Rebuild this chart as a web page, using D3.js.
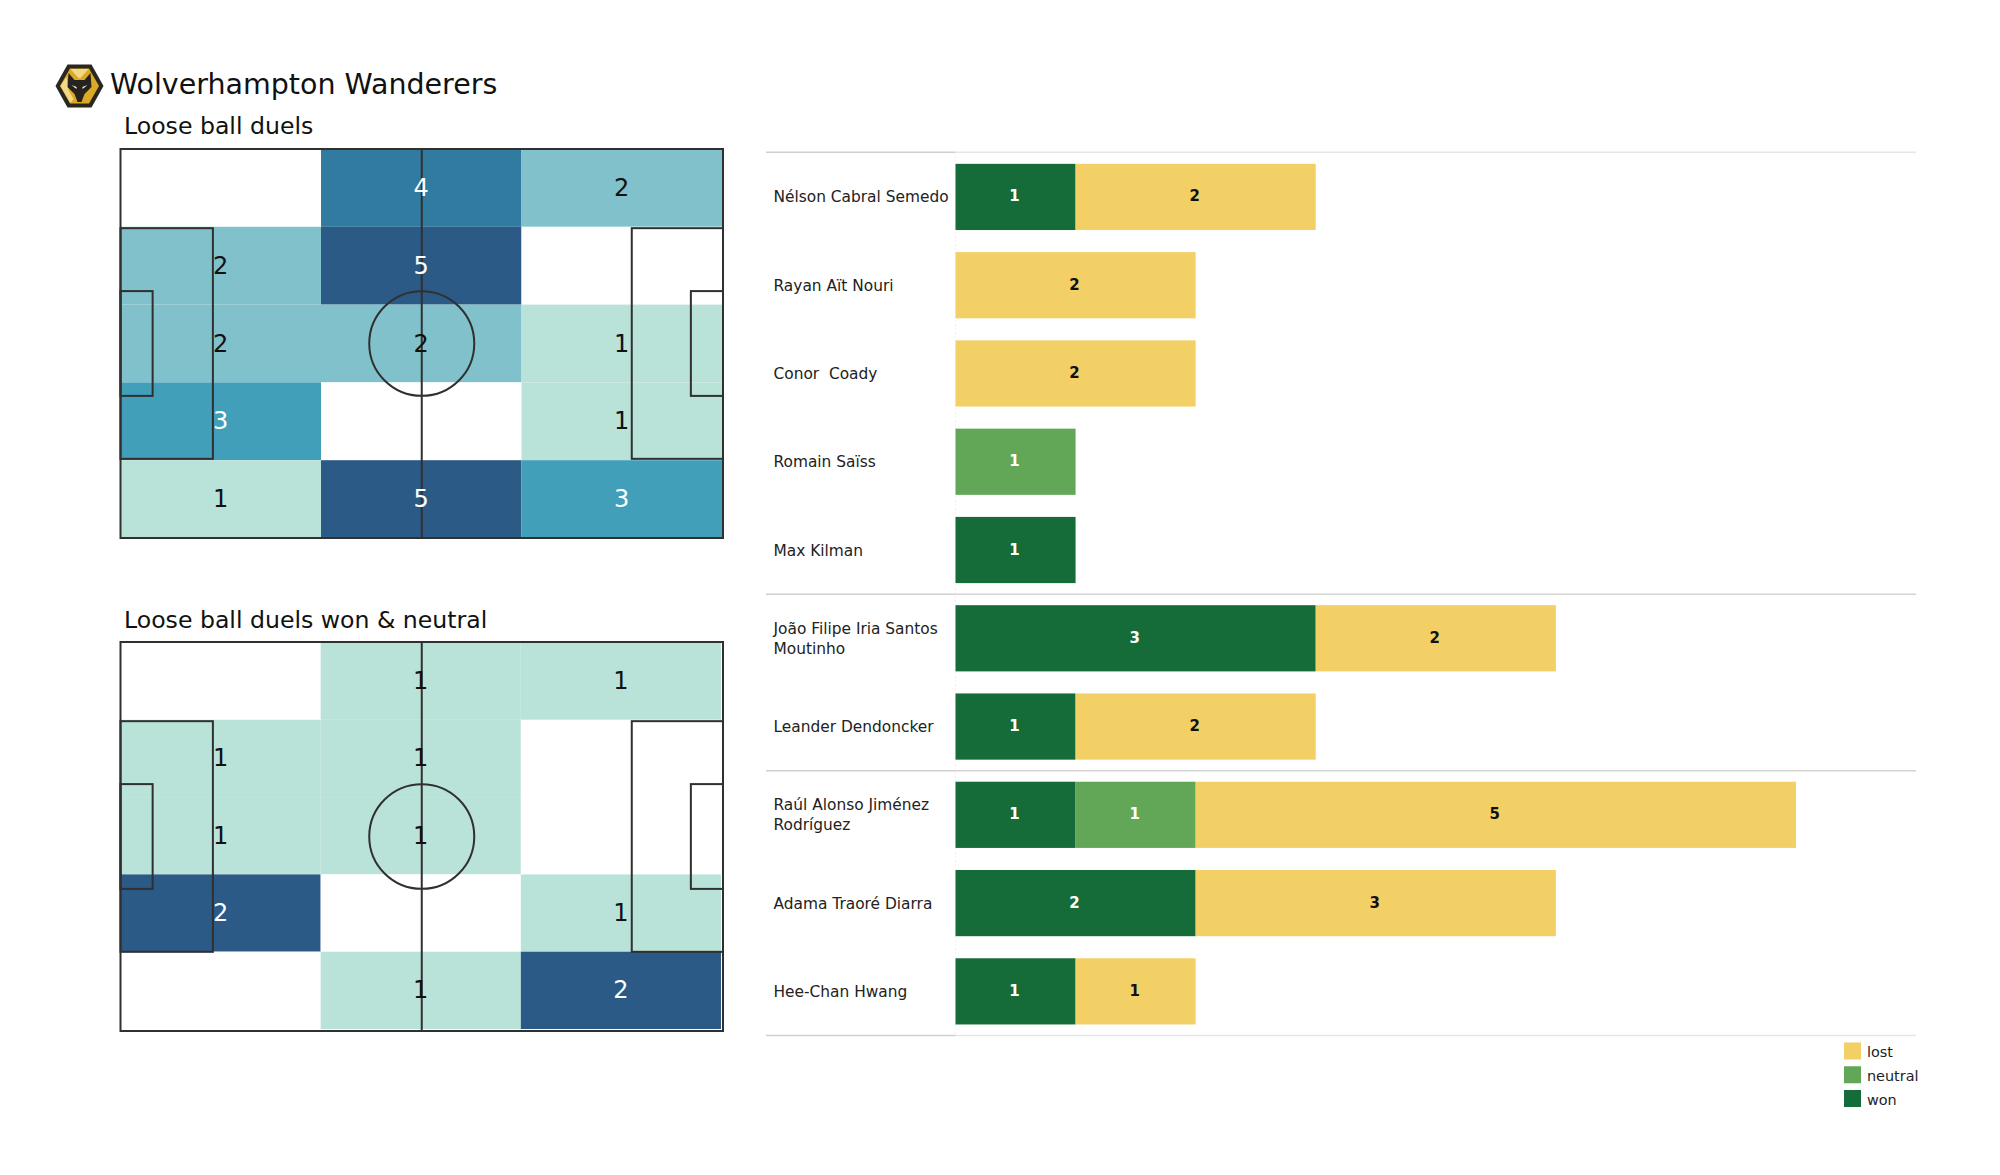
<!DOCTYPE html>
<html><head><meta charset="utf-8">
<script src="https://cdn.jsdelivr.net/npm/d3@7/dist/d3.min.js"></script>
<style>
html,body{margin:0;padding:0;background:#fff}
svg{display:block}
text{font-family:"DejaVu Sans",sans-serif}
</style></head><body>
<svg id="chart" width="2000" height="1175"></svg>
<script>
// ----- Data -----
const teamName = "Wolverhampton Wanderers";
const pitchTitles = ["Loose ball duels", "Loose ball duels won & neutral"];
const duelsGrid = [
  [0, 4, 2],
  [2, 5, 0],
  [2, 2, 1],
  [3, 0, 1],
  [1, 5, 3]
];
const wonNeutralGrid = [
  [0, 1, 1],
  [1, 1, 0],
  [1, 1, 0],
  [2, 0, 1],
  [0, 1, 2]
];
const players = ["Nélson Cabral Semedo","Rayan Aït Nouri","Conor  Coady","Romain Saïss","Max Kilman",
  "João Filipe Iria Santos|Moutinho","Leander Dendoncker","Raúl Alonso Jiménez|Rodríguez","Adama Traoré Diarra","Hee-Chan Hwang"];
const won     = [1,0,0,0,1,3,1,1,2,1];
const neutral = [0,0,0,1,0,0,0,1,0,0];
const lost    = [2,2,2,0,0,2,2,5,3,1];
const groupEnds = [4,6,9];
const outcomes = ["won","neutral","lost"];
const legendOrder = ["lost","neutral","won"];
const outcomeColors = ["#156c38","#62a758","#f2d066"];
const heatColors = ["#ffffff","#b9e3d8","#80c1cb","#429fba","#327ba0","#2b5a86"];

// ----- Setup -----
const svg = d3.select("#chart");
svg.append("rect").attr("width",2000).attr("height",1175).attr("fill","#fff");

// Logo
const logo = svg.append("g").attr("transform","translate(79.5,86)");
const hex = (w,h,c)=>[[-w,0],[-c,-h],[c,-h],[w,0],[c,h],[-c,h]].join(" ");
logo.append("polygon").attr("points",hex(24,21.5,12)).attr("fill","#2a2620");
logo.append("polygon").attr("points",hex(19.5,17.5,9.5)).attr("fill","#dba926");
logo.append("path").attr("d","M-9,-17 L-1,-8 L1,-8 L9,-17 Z M-19,0 L-13,-9 L-11,4 L-6,13 L-9,17 Z").attr("fill","#f1d98a");
logo.append("path").attr("d","M-11,-13 L-5,-6 L5,-6 L11,-13 L12,1 L5,8 L2,16 L-2,16 L-5,8 L-12,1 Z").attr("fill","#26221d");
logo.append("path").attr("d","M-8,-1 L-3,1 L-3,3 Z M8,-1 L3,1 L3,3 Z").attr("fill","#fff");

svg.append("text").attr("x",110).attr("y",85.5).attr("dominant-baseline","middle")
  .attr("font-size",28.5).attr("fill","#111").text(teamName);

// ----- Pitches -----
function drawPitch(grid, title, frame, cellBox, titleY){
  const [x0,x1,y0,y1] = frame;
  const g = svg.append("g");
  g.append("text").attr("x",124).attr("y",titleY).attr("dominant-baseline","middle")
    .attr("font-size",23.6).attr("fill","#111").text(title);
  const x = d3.scaleLinear().domain([0,105]).range([x0,x1]);
  const y = d3.scaleLinear().domain([0,68]).range([y0,y1]);
  const col = d3.scaleBand().domain(d3.range(3)).range([cellBox[0],cellBox[1]]);
  const row = d3.scaleBand().domain(d3.range(5)).range([cellBox[2],cellBox[3]]);
  const maxV = d3.max(grid.flat());
  const color = v => v===0 ? heatColors[0]
    : heatColors[maxV===2 ? (v===1?1:5) : v];
  const cells = grid.flatMap((r,i)=>r.map((v,j)=>({v,i,j})));
  g.selectAll("rect.cell").data(cells).join("rect").attr("class","cell")
    .attr("x",d=>col(d.j)).attr("y",d=>row(d.i))
    .attr("width",col.bandwidth()).attr("height",row.bandwidth())
    .attr("fill",d=>color(d.v));
  const lc="#303030", lw=2;
  const line = (a,b,c,d)=>g.append("line").attr("x1",x(a)).attr("y1",y(b)).attr("x2",x(c)).attr("y2",y(d))
    .attr("stroke",lc).attr("stroke-width",lw);
  const box = (a,b,c,d)=>g.append("rect").attr("x",x(a)).attr("y",y(b))
    .attr("width",x(c)-x(a)).attr("height",y(d)-y(b))
    .attr("fill","none").attr("stroke",lc).attr("stroke-width",lw);
  box(0,0,105,68);
  line(52.5,0,52.5,68);
  box(0,13.84,16.1,54.16); box(89.1,13.84,105,54.16);
  box(0,24.84,5.6,43.16);  box(99.4,24.84,105,43.16);
  g.append("ellipse").attr("cx",x(52.5)).attr("cy",y(34))
    .attr("rx",x(9.15)-x(0)).attr("ry",y(9.15)-y(0))
    .attr("fill","none").attr("stroke",lc).attr("stroke-width",lw);
  g.selectAll("text.val").data(cells.filter(d=>d.v>0)).join("text").attr("class","val")
    .attr("x",d=>col(d.j)+col.bandwidth()/2).attr("y",d=>row(d.i)+row.bandwidth()/2)
    .attr("text-anchor","middle").attr("dominant-baseline","central")
    .attr("font-size",24)
    .attr("fill",d=>(color(d.v)===heatColors[1]||color(d.v)===heatColors[2])?"#111":"#fff")
    .text(d=>d.v);
}
drawPitch(duelsGrid,pitchTitles[0],[120.5,723,149,538],[120.5,722,149,538],127.5);
drawPitch(wonNeutralGrid,pitchTitles[1],[120.5,723,642,1031],[120.5,721,642.5,1029],621.5);

// ----- Stacked bars -----
const bx = d3.scaleLinear().domain([0,7]).range([955.5,1796]);
const by = d3.scaleBand().domain(players).range([152.8,1035.5]).paddingInner(0.25).paddingOuter(0.125);
const table = players.map((p,i)=>({player:p,won:won[i],neutral:neutral[i],lost:lost[i]}));
const stack = d3.stack().keys(outcomes)(table);
const colorOf = d3.scaleOrdinal(outcomes,outcomeColors);

// horizontal rules
const rules = [-1,...groupEnds];
const ruleY = i => i<0 ? 152.3 : by(players[i])+by.step()-by.step()*0.125;
svg.append("line").attr("x1",955.5).attr("x2",955.5).attr("y1",152.3).attr("y2",1035)
  .attr("stroke","#f0f0f0").attr("stroke-width",1).attr("stroke-dasharray","2,2");
svg.selectAll("line.ruleL").data(rules).join("line").attr("class","ruleL")
  .attr("x1",766).attr("x2",955.5).attr("y1",ruleY).attr("y2",ruleY)
  .attr("stroke","#cfcfcf").attr("stroke-width",1.5);
svg.selectAll("line.ruleR").data(rules).join("line").attr("class","ruleR")
  .attr("x1",955.5).attr("x2",1916).attr("y1",ruleY).attr("y2",ruleY)
  .attr("stroke",(d,i)=>(i===0||i===3)?"#e6e6e6":"#d4d4d4").attr("stroke-width",1.5);

const series = svg.selectAll("g.series").data(stack).join("g").attr("class","series")
  .attr("fill",d=>colorOf(d.key));
series.selectAll("rect").data(d=>d.map(s=>({s,key:d.key}))).join("rect")
  .attr("x",d=>bx(d.s[0])).attr("y",d=>by(d.s.data.player))
  .attr("width",d=>bx(d.s[1])-bx(d.s[0])).attr("height",by.bandwidth());
series.selectAll("text").data(d=>d.map(s=>({s,key:d.key})).filter(d=>d.s[1]>d.s[0])).join("text")
  .attr("x",d=>(bx(d.s[0])+bx(d.s[1]))/2-1)
  .attr("y",d=>by(d.s.data.player)+by.bandwidth()/2-0.5)
  .attr("text-anchor","middle").attr("dominant-baseline","central")
  .attr("font-size",15).attr("font-weight","bold")
  .attr("fill",d=>d.key==="lost"?"#111":"#fff").text(d=>d.s[1]-d.s[0]);

// player labels
players.forEach(p=>{
  const parts = p.split("|");
  const cy = by(p)+by.bandwidth()/2+0.5;
  const t = svg.append("text").attr("font-size",15.4).attr("fill","#222");
  parts.forEach((s,i)=>{
    t.append("tspan").attr("x",773.5)
      .attr("y",cy+(i-(parts.length-1)/2)*20)
      .attr("dominant-baseline","central")
      .style("white-space","pre").text(s);
  });
});

// legend
const legY = d3.scalePoint().domain(legendOrder).range([1042.5,1090]);
const leg = svg.selectAll("g.leg").data(legendOrder).join("g").attr("class","leg")
  .attr("transform",d=>`translate(1844,${legY(d)})`);
leg.append("rect").attr("width",17).attr("height",17).attr("fill",d=>colorOf(d));
leg.append("text").attr("x",23).attr("y",9.5).attr("dominant-baseline","central")
  .attr("font-size",14.4).attr("fill","#222").text(d=>d);
</script>
</body></html>
